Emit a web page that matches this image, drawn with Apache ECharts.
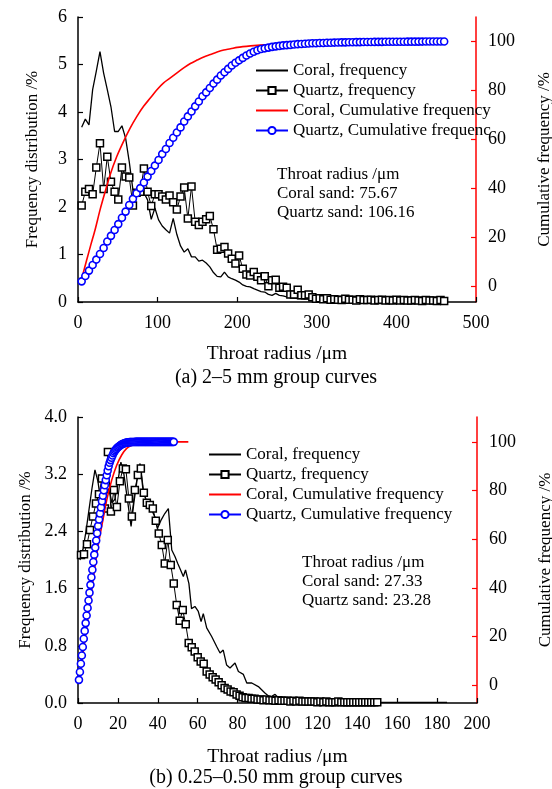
<!DOCTYPE html>
<html><head><meta charset="utf-8">
<script src="https://cdn.jsdelivr.net/npm/echarts@6/dist/echarts.min.js"></script>
<style>html,body{margin:0;padding:0;background:#fff}#c{width:552px;height:789px}</style>
</head><body><div id="c"></div>
<script>
// ---------- (a) 2–5 mm group ----------
const TOP_X = [4.6, 9.2, 13.8, 18.4, 23, 27.6, 32.2, 36.8, 41.4, 46,
  50.6, 55.2, 59.8, 64.4, 69, 73.6, 78.2, 82.8, 87.4, 92,
  96.6, 101.2, 105.8, 110.4, 115, 119.6, 124.2, 128.8, 133.4, 138,
  142.6, 147.2, 151.8, 156.4, 161, 165.6, 170.2, 174.8, 179.4, 184,
  188.6, 193.2, 197.8, 202.4, 207, 211.6, 216.2, 220.8, 225.4, 230,
  234.6, 239.2, 243.8, 248.4, 253, 257.6, 262.2, 266.8, 271.4, 276,
  280.6, 285.2, 289.8, 294.4, 299, 303.6, 308.2, 312.8, 317.4, 322,
  326.6, 331.2, 335.8, 340.4, 345, 349.6, 354.2, 358.8, 363.4, 368,
  372.6, 377.2, 381.8, 386.4, 391, 395.6, 400.2, 404.8, 409.4, 414,
  418.6, 423.2, 427.8, 432.4, 437, 441.6, 446.2, 450.8, 455.4, 460];
const TOP_CORAL_FREQ = [3.68, 3.85, 3.73, 4.47, 4.86, 5.27, 4.82, 4.47, 4.11, 3.59,
  3.59, 3.71, 3.45, 2.95, 2.36, 2.32, 2.39, 2.30, 2.15, 1.74,
  1.98, 1.73, 1.60, 1.52, 1.45, 1.76, 1.42, 1.18, 1.05, 1.12,
  0.95, 0.95, 0.86, 0.88, 0.82, 0.74, 0.62, 0.54, 0.53, 0.63,
  0.53, 0.49, 0.46, 0.42, 0.36, 0.33, 0.32, 0.28, 0.25, 0.22,
  0.21, 0.16, 0.14, 0.18, 0.14, 0.13, 0.11, 0.09, 0.08, 0.07,
  0.07, 0.06, 0.06, 0.05, 0.05, 0.04, 0.05, 0.04, 0.04, 0.03,
  0.04, 0.03, 0.03, 0.03, 0.02, 0.03, 0.02, 0.02, 0.03, 0.02,
  0.02, 0.02, 0.01, 0.02, 0.02, 0.01, 0.02, 0.01, 0.01, 0.02,
  0.01, 0.01, 0.01, 0.02, 0.01, 0.01, 0.01, 0.01, 0.01, 0.01];
const TOP_QUARTZ_FREQ = [2.03, 2.32, 2.38, 2.27, 2.83, 3.34, 2.38, 3.06, 2.53, 2.32,
  2.16, 2.83, 2.64, 2.62, 2.03, 2.30, 2.32, 2.81, 2.32, 2.02,
  2.27, 2.27, 2.22, 2.16, 2.24, 2.10, 1.95, 2.22, 2.41, 1.76,
  2.43, 1.69, 1.62, 1.69, 1.74, 1.81, 1.53, 1.10, 1.12, 1.16,
  1.02, 0.91, 0.81, 0.98, 0.70, 0.58, 0.56, 0.63, 0.53, 0.46,
  0.54, 0.33, 0.46, 0.47, 0.30, 0.32, 0.30, 0.16, 0.16, 0.26,
  0.14, 0.14, 0.16, 0.10, 0.07, 0.08, 0.06, 0.08, 0.05, 0.06,
  0.05, 0.04, 0.07, 0.05, 0.05, 0.03, 0.06, 0.04, 0.04, 0.05,
  0.03, 0.04, 0.05, 0.03, 0.04, 0.03, 0.05, 0.03, 0.04, 0.03,
  0.03, 0.04, 0.03, 0.02, 0.04, 0.03, 0.03, 0.02, 0.04, 0.02];
const TOP_QUARTZ_CUM = [2.0, 4.2, 6.4, 8.7, 10.9, 13.2, 15.6, 18.3, 20.6, 23.0,
  25.4, 28.0, 30.5, 33.2, 35.7, 38.0, 40.1, 42.4, 44.8, 47.1,
  49.3, 51.6, 54.0, 56.1, 58.5, 60.7, 62.8, 64.9, 67.3, 69.4,
  71.4, 73.5, 75.5, 77.6, 79.2, 81.0, 82.8, 84.4, 86.1, 87.4,
  88.8, 90.2, 91.3, 92.3, 93.3, 94.3, 95.1, 95.8, 96.4, 96.9,
  97.2, 97.5, 97.8, 98.0, 98.2, 98.4, 98.5, 98.6, 98.75, 98.9,
  99.0, 99.1, 99.2, 99.25, 99.3, 99.35, 99.4, 99.45, 99.5, 99.55,
  99.6, 99.62, 99.65, 99.68, 99.7, 99.72, 99.74, 99.76, 99.78, 99.8,
  99.82, 99.84, 99.85, 99.86, 99.87, 99.88, 99.89, 99.9, 99.91, 99.92,
  99.93, 99.94, 99.95, 99.96, 99.97, 99.97, 99.98, 99.99, 99.99, 100];
const TOP_CORAL_CUM_X = [4.6, 10.9, 16, 21.4, 27.7, 34, 40.3, 48.7, 57.1, 65.5, 74, 82.4,
  90.8, 99.2, 107.6, 116, 124.4, 132.8, 141.2, 149.6, 158, 166.4, 174.8, 183.2, 191.6,
  200, 216.8, 233.6, 254.6, 280, 320, 360, 400, 460];
const TOP_CORAL_CUM = [3.0, 10.7, 16.8, 23.0, 31.2, 38.5, 45.5, 53.0, 59.1, 64.6, 69.4, 73.5,
  76.9, 80.3, 83.1, 85.1, 87.2, 89.2, 91.0, 92.4, 93.7, 94.7, 95.7, 96.5, 97.0,
  97.6, 98.2, 98.6, 98.9, 99.3, 99.7, 99.9, 100, 100];

// ---------- (b) 0.25–0.50 mm group ----------
const BOT_CORAL_X = [1.0, 2.5, 4.0, 5.5, 7.0, 8.5, 10.0, 11.5, 12.7, 14.0,
  15.5, 17.0, 18.5, 20.0, 21.5, 23.0, 24.5, 26.6, 28.0, 29.5,
  31.1, 32.5, 34.0, 35.5, 37.0, 38.5, 39.8, 41.5, 43.5, 45.3,
  47.0, 48.6, 50.0, 51.1, 52.8, 53.9, 55.6, 56.9, 58.6, 60.3,
  61.7, 62.8, 64.5, 67.0, 69.5, 71.2, 72.8, 74.5, 76.2, 78.7,
  80.4, 82.9, 84.6, 87.1, 90.4, 93.7, 96.2, 98.8, 101.3, 105,
  110, 115, 120, 130, 140, 150, 160, 170, 185];
const BOT_CORAL_FREQ = [2.0, 2.15, 2.4, 2.7, 3.0, 3.26, 3.1, 2.8, 2.63, 2.9,
  3.0, 2.8, 2.85, 3.1, 3.37, 3.2, 2.9, 2.47, 2.8, 3.1,
  3.35, 3.0, 2.85, 2.75, 2.7, 2.6, 2.44, 2.55, 2.65, 2.72,
  2.14, 2.05, 1.95, 1.88, 1.77, 1.86, 1.67, 1.32, 1.35, 1.28,
  1.14, 1.25, 1.05, 0.93, 0.79, 0.70, 0.74, 0.53, 0.49, 0.56,
  0.44, 0.40, 0.28, 0.28, 0.23, 0.14, 0.08, 0.12, 0.05, 0.06,
  0.04, 0.03, 0.03, 0.02, 0.02, 0.01, 0.01, 0.01, 0.01];
const BOT_QUARTZ_X = [1.5, 3, 4.5, 6, 7.5, 9, 10.5, 12, 13.5, 15,
  16.5, 18, 19.5, 21, 22.5, 24, 25.5, 27, 28.5, 30,
  31.5, 33, 34.5, 36, 37.5, 39, 40.5, 42, 43.5, 45,
  46.5, 48, 49.5, 51, 52.5, 54, 55.5, 57, 58.5, 60,
  61.5, 63, 64.5, 66, 67.5, 69, 70.5, 72, 73.5, 75,
  76.5, 78, 79.5, 81, 82.5, 84, 85.5, 87, 88.5, 90,
  91.5, 93, 94.5, 96, 97.5, 99, 100.5, 102, 103.5, 105,
  106.5, 108, 109.5, 111, 112.5, 114, 115.5, 117, 118.5, 120,
  121.5, 123, 124.5, 126, 127.5, 129, 130.5, 132, 133.5, 135,
  136.5, 138, 139.5, 141, 142.5, 144, 145.5, 147, 148.5, 150];
const BOT_QUARTZ_FREQ = [2.07, 2.08, 2.22, 2.42, 2.61, 2.79, 2.92, 3.14, 2.72, 3.51,
  2.68, 2.98, 2.74, 3.10, 3.28, 3.27, 2.86, 2.61, 2.98, 3.19,
  3.28, 2.94, 2.80, 2.77, 2.72, 2.55, 2.37, 2.21, 1.95, 2.28,
  1.93, 1.67, 1.37, 1.15, 1.30, 1.10, 0.84, 0.78, 0.72, 0.64,
  0.58, 0.55, 0.44, 0.40, 0.36, 0.33, 0.29, 0.25, 0.21, 0.19,
  0.16, 0.15, 0.12, 0.10, 0.08, 0.07, 0.07, 0.06, 0.06, 0.05,
  0.05, 0.04, 0.05, 0.04, 0.04, 0.03, 0.04, 0.03, 0.03, 0.03,
  0.02, 0.03, 0.02, 0.03, 0.02, 0.02, 0.02, 0.02, 0.02, 0.01,
  0.02, 0.01, 0.02, 0.01, 0.01, 0.01, 0.02, 0.01, 0.01, 0.01,
  0.01, 0.01, 0.01, 0.01, 0.01, 0.01, 0.01, 0.01, 0.01, 0.01];
const BOT_QUARTZ_CUM_X = [0.48, 0.96, 1.44, 1.92, 2.4, 2.88, 3.36, 3.84, 4.32, 4.8,
  5.28, 5.76, 6.24, 6.72, 7.2, 7.68, 8.16, 8.64, 9.12, 9.6,
  10.08, 10.56, 11.04, 11.52, 12, 12.48, 12.96, 13.44, 13.92, 14.4,
  14.88, 15.36, 15.84, 16.32, 16.8, 17.28, 17.76, 18.24, 18.72, 19.2,
  19.68, 20.16, 20.64, 21.12, 21.6, 22.08, 22.56, 23.04, 23.52, 24,
  24.48, 24.96, 25.44, 25.92, 26.4, 26.88, 27.36, 27.84, 28.32, 28.8,
  29.28, 29.76, 30.24, 30.72, 31.2, 31.68, 32.16, 32.64, 33.12, 33.6,
  34.08, 34.56, 35.04, 35.52, 36, 36.48, 36.96, 37.44, 37.92, 38.4,
  38.88, 39.36, 39.84, 40.32, 40.8, 41.28, 41.76, 42.24, 42.72, 43.2,
  43.68, 44.16, 44.64, 45.12, 45.6, 46.08, 46.56, 47.04, 47.52, 48];
const BOT_QUARTZ_CUM = [2.3, 5.5, 8.9, 12.3, 15.8, 19.2, 22.4, 25.6, 28.7, 31.8,
  34.9, 38.1, 41.3, 44.4, 47.5, 50.7, 53.7, 56.6, 59.5, 62.5,
  65.5, 68.1, 70.6, 73.1, 75.6, 77.9, 80.1, 82.2, 84.3, 86.3,
  88.2, 90.0, 91.4, 92.5, 93.5, 94.4, 95.3, 96.0, 96.6, 97.1,
  97.6, 97.9, 98.2, 98.5, 98.8, 99.0, 99.2, 99.35, 99.5, 99.6,
  99.7, 99.8, 99.85, 99.9, 99.9, 99.92, 99.94, 99.95, 99.96, 99.97,
  99.98, 99.98, 99.99, 99.99, 99.99, 100, 100, 100, 100, 100,
  100, 100, 100, 100, 100, 100, 100, 100, 100, 100,
  100, 100, 100, 100, 100, 100, 100, 100, 100, 100,
  100, 100, 100, 100, 100, 100, 100, 100, 100, 100];
const BOT_CORAL_CUM_X = [0.5, 2.5, 5, 7.5, 10, 12.5, 14.4, 16.9, 19.4, 21.9, 24.4, 26.9, 29.4, 33, 37.8, 55.3];
const BOT_CORAL_CUM = [1.5, 13, 28, 43, 57, 68, 76.1, 84.3, 90.4, 94.6, 97.3, 98.6, 99.3, 99.7, 100, 100];

const RIGHT_TICKS = [0, 20, 40, 60, 80, 100];
const NAMES = ['Coral, frequency', 'Quartz, frequency', 'Coral, Cumulative frequency', 'Quartz, Cumulative frequency'];

const FONT = 'Liberation Serif';
const pairs = (xs, ys) => xs.map((x, i) => [x, ys[i]]);

const chart = echarts.init(document.getElementById('c'), null, {renderer: 'canvas'});

function xAxisCfg(gi, max, interval, gap) {
  return {
    gridIndex: gi, type: 'value', min: 0, max: max, interval: interval,
    name: 'Throat radius /\u03bcm', nameLocation: 'middle', nameGap: gap,
    nameTextStyle: {fontFamily: FONT, fontSize: 19.5, color: '#000'},
    axisLine: {show: true, onZero: false, lineStyle: {color: '#000', width: 1.5}},
    axisTick: {show: true, inside: true, length: 5, lineStyle: {color: '#000', width: 1.2}},
    axisLabel: {fontFamily: FONT, fontSize: 18, color: '#000', margin: 12},
    splitLine: {show: false}
  };
}
function yLeftCfg(gi, max, interval, digits) {
  return {
    gridIndex: gi, type: 'value', min: 0, max: max, interval: interval, position: 'left',
    name: 'Frequency distribution /%', nameLocation: 'middle', nameGap: 37, nameRotate: 90,
    nameTextStyle: {fontFamily: FONT, fontSize: 17, color: '#000'},
    axisLine: {show: true, onZero: false, lineStyle: {color: '#000', width: 1.5}},
    axisTick: {show: true, inside: true, length: 5, lineStyle: {color: '#000', width: 1.2}},
    axisLabel: {fontFamily: FONT, fontSize: 18, color: '#000', margin: 11,
      formatter: v => v.toFixed(digits)},
    splitLine: {show: false}
  };
}
function yRightCfg(gi, min, max) {
  return {
    gridIndex: gi, type: 'value', min: min, max: max, position: 'right',
    name: 'Cumulative frequency /%', nameLocation: 'middle', nameGap: 60, nameRotate: 90,
    nameTextStyle: {fontFamily: FONT, fontSize: 17, color: '#000'},
    axisLine: {show: true, onZero: false, lineStyle: {color: '#ff0000', width: 1.5}},
    axisTick: {show: true, inside: true, length: 5, customValues: RIGHT_TICKS,
      lineStyle: {color: '#ff0000', width: 1.2}},
    axisLabel: {fontFamily: FONT, fontSize: 18, color: '#000', margin: 12, customValues: RIGHT_TICKS},
    splitLine: {show: false}
  };
}
function seriesSet(xi, yl, yr, coral, quartz, coralCum, quartzCum) {
  return [
    {name: NAMES[0], type: 'line', xAxisIndex: xi, yAxisIndex: yl, data: coral,
      symbol: 'none', lineStyle: {color: '#000', width: 1.3}, itemStyle: {color: '#000'}, z: 2},
    {name: NAMES[1], type: 'line', xAxisIndex: xi, yAxisIndex: yl, data: quartz,
      symbol: 'rect', symbolSize: 7, showAllSymbol: true,
      lineStyle: {color: '#000', width: 1},
      itemStyle: {color: '#fff', borderColor: '#000', borderWidth: 1.5}, z: 3},
    {name: NAMES[2], type: 'line', xAxisIndex: xi, yAxisIndex: yr, data: coralCum,
      symbol: 'none', smooth: 0.3, lineStyle: {color: '#ff0000', width: 1.6},
      itemStyle: {color: '#ff0000'}, z: 4},
    {name: NAMES[3], type: 'line', xAxisIndex: xi, yAxisIndex: yr, data: quartzCum,
      symbol: 'circle', symbolSize: 7, showAllSymbol: true,
      lineStyle: {color: '#0000ff', width: 1.5},
      itemStyle: {color: '#fff', borderColor: '#0000ff', borderWidth: 1.6}, z: 5}
  ];
}
function legendCfg(left, top, truncateLast) {
  return {
    orient: 'vertical', left: left, top: top, itemWidth: 32, itemHeight: 9, itemGap: 3,
    padding: 0, selectedMode: false,
    data: [
      {name: NAMES[0], itemStyle: {opacity: 0}},
      {name: NAMES[1]},
      {name: NAMES[2], itemStyle: {opacity: 0}},
      {name: NAMES[3]}
    ],
    textStyle: {fontFamily: FONT, fontSize: 17, color: '#000'},
    formatter: n => (truncateLast && n === NAMES[3]) ? 'Quartz, Cumulative frequenc' : n
  };
}
function txt(x, y, s, align) {
  return {type: 'text', x: x, y: y, z: 50, style: {text: s, fill: '#000',
    font: '17px "' + FONT + '"', textAlign: align || 'left', textVerticalAlign: 'middle'}};
}

const option = {
  animation: false,
  backgroundColor: '#fff',
  grid: [
    {left: 78, top: 17, width: 398, height: 285, containLabel: false, outerBoundsMode: 'none'},
    {left: 78, top: 417, width: 399, height: 286, containLabel: false, outerBoundsMode: 'none'}
  ],
  xAxis: [xAxisCfg(0, 500, 100, 42), xAxisCfg(1, 200, 20, 44)],
  yAxis: [
    yLeftCfg(0, 6, 1, 0), yRightCfg(0, -6.43, 110),
    yLeftCfg(1, 4.0, 0.8, 1), yRightCfg(1, -7.2, 110.2)
  ],
  legend: [legendCfg(255, 62, true), legendCfg(208, 446, false)],
  series: [].concat(
    seriesSet(0, 0, 1, pairs(TOP_X, TOP_CORAL_FREQ), pairs(TOP_X, TOP_QUARTZ_FREQ),
      pairs(TOP_CORAL_CUM_X, TOP_CORAL_CUM), pairs(TOP_X, TOP_QUARTZ_CUM)),
    seriesSet(1, 2, 3, pairs(BOT_CORAL_X, BOT_CORAL_FREQ), pairs(BOT_QUARTZ_X, BOT_QUARTZ_FREQ),
      pairs(BOT_CORAL_CUM_X, BOT_CORAL_CUM), pairs(BOT_QUARTZ_CUM_X, BOT_QUARTZ_CUM))
  ),
  graphic: [
    txt(277, 175, 'Throat radius /\u03bcm'),
    txt(277, 194, 'Coral sand: 75.67'),
    txt(277, 213, 'Quartz sand: 106.16'),
    txt(302, 563, 'Throat radius /\u03bcm'),
    txt(302, 582, 'Coral sand: 27.33'),
    txt(302, 601, 'Quartz sand: 23.28'),
    {type: 'text', x: 276, y: 378, z: 50, style: {text: '(a) 2\u20135 mm group curves', fill: '#000',
      font: '20px "' + FONT + '"', textAlign: 'center', textVerticalAlign: 'middle'}},
    {type: 'text', x: 276, y: 778, z: 50, style: {text: '(b) 0.25\u20130.50 mm group curves', fill: '#000',
      font: '20px "' + FONT + '"', textAlign: 'center', textVerticalAlign: 'middle'}}
  ]
};
chart.setOption(option);
</script>
</body></html>
